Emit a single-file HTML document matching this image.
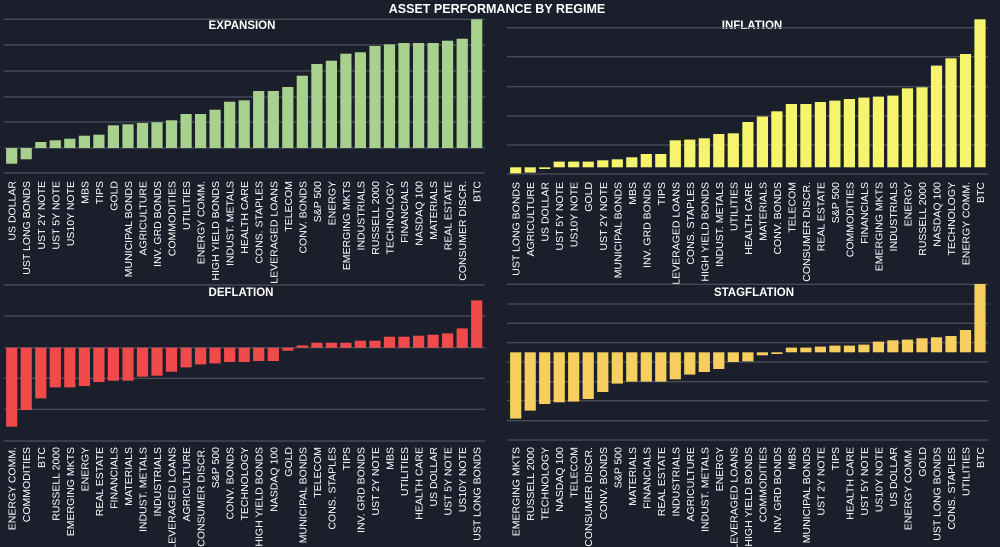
<!DOCTYPE html>
<html><head><meta charset="utf-8"><style>
html,body{margin:0;padding:0;background:#1b1e2b;}
svg{display:block;}
text{font-family:"Liberation Sans",sans-serif;fill:#fff;}
</style></head><body>
<svg id="s" width="1000" height="547" xmlns="http://www.w3.org/2000/svg">
<rect width="1000" height="547" fill="#1b1e2b"/>
<text x="497" y="13" font-size="12.5" font-weight="bold" text-anchor="middle">ASSET PERFORMANCE BY REGIME</text>
<text x="242" y="29" font-size="11.5" font-weight="bold" text-anchor="middle">EXPANSION</text>
<text x="752" y="29" font-size="11.5" font-weight="bold" text-anchor="middle">INFLATION</text>
<text x="241" y="296" font-size="11.5" font-weight="bold" text-anchor="middle">DEFLATION</text>
<text x="754" y="296" font-size="11.5" font-weight="bold" text-anchor="middle">STAGFLATION</text>
<g id="g"></g>
</svg>
<script>
var P=[
{x0:11.7,x1:476.7,zero:148,grid:[19.3,45,71,97,122,148,173],gx:[4,485],lab:181,col:"#a9d18e",
n:["US DOLLAR","UST LONG BONDS","UST 2Y NOTE","UST 5Y NOTE","US10Y NOTE","MBS","TIPS","GOLD","MUNICIPAL BONDS","AGRICULTURE","INV. GRD BONDS","COMMODITIES","UTILITIES","ENERGY COMM.","HIGH YIELD BONDS","INDUST. METALS","HEALTH CARE","CONS. STAPLES","LEVERAGED LOANS","TELECOM","CONV. BONDS","S&P 500","ENERGY","EMERGING MKTS","INDUSTRIALS","RUSSELL 2000","TECHNOLOGY","FINANCIALS","NASDAQ 100","MATERIALS","REAL ESTATE","CONSUMER DISCR.","BTC"],
v:[-47,-34,18,23,28,37,40,68,71,75,77,83,102,102,115,139,143,171,171,183,217,252,262,283,287,306,311,315,315,315,322,328,386]},
{x0:515.7,x1:980,zero:167.3,grid:[27.7,56.7,86.7,116,145,174],gx:[507,988],lab:182,col:"#f6f36c",
n:["UST LONG BONDS","AGRICULTURE","US DOLLAR","UST 5Y NOTE","US10Y NOTE","GOLD","UST 2Y NOTE","MUNICIPAL BONDS","MBS","INV. GRD BONDS","TIPS","LEVERAGED LOANS","CONS. STAPLES","HIGH YIELD BONDS","INDUST. METALS","UTILITIES","HEALTH CARE","MATERIALS","CONV. BONDS","TELECOM","CONSUMER DISCR.","REAL ESTATE","S&P 500","COMMODITIES","FINANCIALS","EMERGING MKTS","INDUSTRIALS","ENERGY","RUSSELL 2000","NASDAQ 100","TECHNOLOGY","ENERGY COMM.","BTC"],
v:[-18,-16,-5,17,17,17,21,24,30,40,40,81,83,87,100,102,136,152,168,190,190,196,200,205,209,212,215,237,240,305,327,340,444]},
{x0:11.7,x1:476.7,zero:347.7,grid:[285,316,347.7,378.3,409.3,441],gx:[4,485],lab:447,col:"#f04a4a",
n:["ENERGY COMM.","COMMODITIES","BTC","RUSSELL 2000","EMERGING MKTS","ENERGY","REAL ESTATE","FINANCIALS","MATERIALS","INDUST. METALS","INDUSTRIALS","LEVERAGED LOANS","AGRICULTURE","CONSUMER DISCR.","S&P 500","CONV. BONDS","TECHNOLOGY","HIGH YIELD BONDS","NASDAQ 100","GOLD","MUNICIPAL BONDS","TELECOM","CONS. STAPLES","TIPS","INV. GRD BONDS","UST 2Y NOTE","MBS","UTILITIES","HEALTH CARE","US DOLLAR","UST 5Y NOTE","US10Y NOTE","UST LONG BONDS"],
v:[-237,-187,-152,-119,-119,-115,-103,-99,-99,-87,-84,-72,-59,-50,-47,-43,-43,-40,-40,-9,7,15,15,15,21,21,33,33,36,39,43,58,142]},
{x0:515.7,x1:980,zero:352.3,grid:[284.3,304,323.3,342.7,362,381.7,400.7,420.7,440],gx:[507,988],lab:447,col:"#f7cf5e",
n:["EMERGING MKTS","RUSSELL 2000","TECHNOLOGY","NASDAQ 100","TELECOM","CONSUMER DISCR.","CONV. BONDS","S&P 500","MATERIALS","FINANCIALS","REAL ESTATE","INDUSTRIALS","AGRICULTURE","INDUST. METALS","ENERGY","LEVERAGED LOANS","HIGH YIELD BONDS","COMMODITIES","INV. GRD BONDS","MBS","MUNICIPAL BONDS","UST 2Y NOTE","TIPS","HEALTH CARE","UST 5Y NOTE","US10Y NOTE","US DOLLAR","ENERGY COMM.","GOLD","UST LONG BONDS","CONS. STAPLES","UTILITIES","BTC"],
v:[-199,-175,-155,-150,-148,-140,-119,-94,-88,-88,-88,-81,-67,-59,-50,-29,-27,-9,-5,14,14,17,20,20,23,32,36,38,42,45,49,67,205]}
];
var h="";
P.forEach(function(p){
 p.grid.forEach(function(y){h+='<line x1="'+p.gx[0]+'" x2="'+p.gx[1]+'" y1="'+y+'" y2="'+y+'" stroke="#585d6b" stroke-width="1"/>';});
 var pitch=(p.x1-p.x0)/32;
 p.v.forEach(function(v,i){
  var cx=p.x0+i*pitch, d=v/3, y=d>0?p.zero-d:p.zero, hh=Math.abs(d);
  h+='<rect x="'+(cx-5.6).toFixed(1)+'" y="'+y.toFixed(1)+'" width="11.2" height="'+hh.toFixed(1)+'" fill="'+p.col+'"/>';
  h+='<text transform="translate('+(cx+4).toFixed(1)+','+p.lab+') rotate(-90)" font-size="10.5" text-anchor="end">'+p.n[i].replace("&","&amp;")+'</text>';
 });
});
document.getElementById("g").innerHTML=h;
</script>
</body></html>
